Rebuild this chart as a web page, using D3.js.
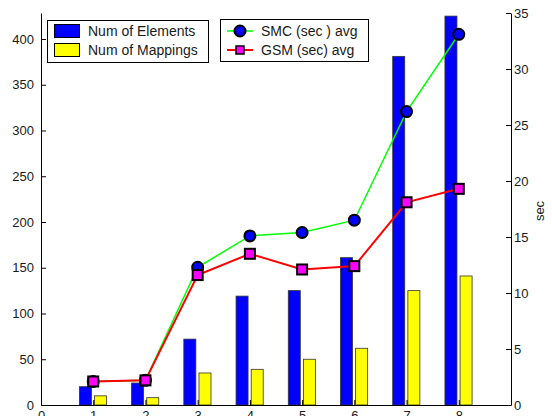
<!DOCTYPE html>
<html>
<head>
<meta charset="utf-8">
<script src="https://cdn.jsdelivr.net/npm/d3@7"></script>
<style>
  html, body { margin: 0; padding: 0; background: #ffffff; }
  svg { display: block; }
  text { font-family: "Liberation Sans", Arial, Helvetica, sans-serif; fill: #1a1a1a; }
</style>
</head>
<body>
<svg id="chart" width="552" height="416"></svg>
<script>
// Benchmark sizes per test case
const categories = [1, 2, 3, 4, 5, 6, 7, 8];
const numElements = [20, 24, 72, 119, 125, 161, 381, 425];
const numMappings = [10, 8, 35, 39, 50, 62, 125, 141];

// Average run times in seconds
const smcAvg = [2.1, 2.2, 12.3, 15.1, 15.4, 16.5, 26.2, 33.1];
const gsmAvg = [2.1, 2.2, 11.6, 13.5, 12.1, 12.4, 18.1, 19.3];

// Tick labels
const xTicks = [0, 1, 2, 3, 4, 5, 6, 7, 8];
const leftTicks = [0, 50, 100, 150, 200, 250, 300, 350, 400];
const rightTicks = [0, 5, 10, 15, 20, 25, 30, 35];

const svg = d3.select("#chart");
const plot = { left: 41, right: 511, top: 13, bottom: 405 };

const x = d3.scaleLinear().domain([0, 9]).range([plot.left, plot.right]);
const yL = d3.scaleLinear().domain([0, 428.4]).range([plot.bottom, plot.top]);
const yR = d3.scaleLinear().domain([0, 35]).range([plot.bottom, plot.top]);

const barW = x(0.23) - x(0);
const offsets = [-0.15, 0.14];

// Bars
const barSeries = [
  { values: numElements, color: "#0000ff" },
  { values: numMappings, color: "#ffff00" }
];
barSeries.forEach((s, si) => {
  svg.append("g").selectAll("rect")
    .data(categories)
    .join("rect")
    .attr("x", (d) => x(d + offsets[si]) - barW / 2)
    .attr("y", (d, i) => yL(s.values[i]))
    .attr("width", barW)
    .attr("height", (d, i) => yL(0) - yL(s.values[i]))
    .attr("fill", s.color)
    .attr("stroke", "#333")
    .attr("stroke-width", 0.8);
});

// Axes
const axisG = svg.append("g");
const xAxis = d3.axisBottom(x).tickValues(xTicks).tickSizeInner(-5).tickSizeOuter(0).tickPadding(6);
axisG.append("g").attr("transform", `translate(0,${plot.bottom})`).call(xAxis);
const lAxis = d3.axisLeft(yL).tickValues(leftTicks).tickSizeInner(-5).tickSizeOuter(0).tickPadding(7);
axisG.append("g").attr("transform", `translate(${plot.left},0)`).call(lAxis);
const rAxis = d3.axisRight(yR).tickValues(rightTicks).tickSizeInner(-5).tickSizeOuter(0).tickPadding(3);
axisG.append("g").attr("transform", `translate(${plot.right},0)`).call(rAxis);
axisG.selectAll("path.domain").attr("stroke", "#000").attr("stroke-width", 1);
axisG.selectAll(".tick line").attr("stroke", "#000").attr("stroke-width", 1);
axisG.selectAll(".tick text").style("font-size", "13px").attr("fill", "#1a1a1a");

// Right axis label
svg.append("text")
  .attr("transform", `translate(544,211) rotate(-90)`)
  .attr("text-anchor", "middle")
  .style("font-size", "13px")
  .text("sec");

// Lines
const lineSeries = [
  { values: smcAvg, color: "#00ff00", width: 1.5, marker: "circle" },
  { values: gsmAvg, color: "#ff0000", width: 2, marker: "square" }
];
lineSeries.forEach((s) => {
  const line = d3.line().x((d) => x(d)).y((d, i) => yR(s.values[i]));
  svg.append("path")
    .datum(categories)
    .attr("d", line)
    .attr("fill", "none")
    .attr("stroke", s.color)
    .attr("stroke-width", s.width);
  const g = svg.append("g");
  if (s.marker === "circle") {
    g.selectAll("circle").data(categories).join("circle")
      .attr("cx", (d) => x(d))
      .attr("cy", (d, i) => yR(s.values[i]))
      .attr("r", 5.5)
      .attr("fill", "#0000ff")
      .attr("stroke", "#000")
      .attr("stroke-width", 2);
  } else {
    g.selectAll("rect").data(categories).join("rect")
      .attr("x", (d) => x(d) - 5)
      .attr("y", (d, i) => yR(s.values[i]) - 5)
      .attr("width", 10)
      .attr("height", 10)
      .attr("fill", "#ff00ff")
      .attr("stroke", "#000")
      .attr("stroke-width", 2);
  }
});

// Legend for bars
const leg1 = svg.append("g");
leg1.append("rect").attr("x", 47.5).attr("y", 20.5).attr("width", 161).attr("height", 42)
  .attr("fill", "#fff").attr("stroke", "#000").attr("stroke-width", 1);
const barLegend = [
  { label: "Num of Elements", color: "#0000ff", y: 31 },
  { label: "Num of Mappings", color: "#ffff00", y: 50 }
];
barLegend.forEach((e) => {
  leg1.append("rect").attr("x", 54.5).attr("y", e.y - 6.5).attr("width", 25).attr("height", 13)
    .attr("fill", e.color).attr("stroke", "#000").attr("stroke-width", 1);
  leg1.append("text").attr("x", 88).attr("y", e.y).attr("dy", "0.36em")
    .style("font-size", "14px").text(e.label);
});

// Legend for lines
const leg2 = svg.append("g");
leg2.append("rect").attr("x", 220.5).attr("y", 19.5).attr("width", 148).attr("height", 42)
  .attr("fill", "#fff").attr("stroke", "#000").attr("stroke-width", 1);
const lineLegend = [
  { label: "SMC (sec ) avg", color: "#00ff00", marker: "circle", y: 31 },
  { label: "GSM (sec) avg", color: "#ff0000", marker: "square", y: 50 }
];
lineLegend.forEach((e) => {
  leg2.append("line").attr("x1", 227).attr("x2", 253).attr("y1", e.y).attr("y2", e.y)
    .attr("stroke", e.color).attr("stroke-width", e.marker === "circle" ? 1.5 : 2);
  if (e.marker === "circle") {
    leg2.append("circle").attr("cx", 240).attr("cy", e.y).attr("r", 5.5)
      .attr("fill", "#0000ff").attr("stroke", "#000").attr("stroke-width", 2);
  } else {
    leg2.append("rect").attr("x", 236).attr("y", e.y - 4).attr("width", 8).attr("height", 8)
      .attr("fill", "#ff00ff").attr("stroke", "#000").attr("stroke-width", 1.5);
  }
  leg2.append("text").attr("x", 261).attr("y", e.y).attr("dy", "0.36em")
    .style("font-size", "14px").text(e.label);
});
</script>
</body>
</html>
